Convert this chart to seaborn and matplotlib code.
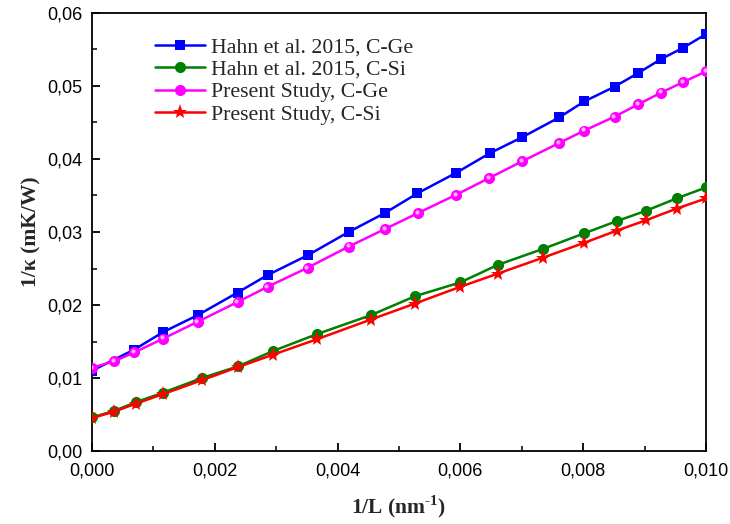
import matplotlib
matplotlib.use("Agg")
import matplotlib.pyplot as plt
import matplotlib.transforms as mtransforms
from matplotlib.ticker import MultipleLocator, FuncFormatter
import seaborn as sns

# Hahn et al. 2015, C-Ge
hahn_ge_x = [0.0, 0.00069, 0.00116, 0.00172, 0.00237, 0.00286, 0.00351, 0.00418, 0.00477, 0.00530,
             0.00593, 0.00648, 0.00701, 0.00761, 0.00802, 0.00851, 0.00890, 0.00927, 0.00962, 0.0100]
hahn_ge_y = [0.0110, 0.0139, 0.0163, 0.0186, 0.0217, 0.0241, 0.0268, 0.0300, 0.0326, 0.0353,
             0.0381, 0.0408, 0.0430, 0.0457, 0.0479, 0.0499, 0.0518, 0.0537, 0.0552, 0.0571]

# Present Study, C-Ge
pres_ge_x = [0.0, 0.00036, 0.00069, 0.00116, 0.00172, 0.00237, 0.00286, 0.00351, 0.00418, 0.00477, 0.00531,
             0.00593, 0.00647, 0.00701, 0.00761, 0.00802, 0.00851, 0.00890, 0.00927, 0.00962, 0.0100]
pres_ge_y = [0.0114, 0.0123, 0.0135, 0.0154, 0.0177, 0.0204, 0.0225, 0.0251, 0.0280, 0.0304, 0.0326,
             0.0351, 0.0374, 0.0397, 0.0422, 0.0439, 0.0458, 0.0475, 0.0491, 0.0505, 0.0520]

# C-Si series share x positions
si_x = [0.0, 0.00036, 0.00072, 0.00116, 0.00179, 0.00238, 0.00295, 0.00366, 0.00454, 0.00526,
        0.00600, 0.00661, 0.00735, 0.00801, 0.00855, 0.00902, 0.00952, 0.0100]
hahn_si_y = [0.0046, 0.0055, 0.0067, 0.0080, 0.0100, 0.0116, 0.0137, 0.0160, 0.0186, 0.0212,
             0.0231, 0.0255, 0.0277, 0.0298, 0.0315, 0.0329, 0.0346, 0.0361]
pres_si_y = [0.0045, 0.0054, 0.0065, 0.0078, 0.0097, 0.0115, 0.0132, 0.0153, 0.0180, 0.0202,
             0.0225, 0.0243, 0.0265, 0.0285, 0.0302, 0.0316, 0.0332, 0.0346]

labels = ["Hahn et al. 2015, C-Ge", "Hahn et al. 2015, C-Si",
          "Present Study, C-Ge", "Present Study, C-Si"]

sns.set_style("ticks")
plt.rcParams["font.family"] = ["Liberation Sans", "DejaVu Sans"]
plt.rcParams["xtick.direction"] = "in"
plt.rcParams["ytick.direction"] = "in"
plt.rcParams["mathtext.fontset"] = "custom"
plt.rcParams["mathtext.rm"] = "Liberation Serif"
plt.rcParams["mathtext.bf"] = "Liberation Serif:bold"

fig = plt.figure(figsize=(7.3, 5.24), dpi=100)
ax = fig.add_axes([92 / 730, 73 / 524, (706 - 92) / 730, (451 - 13) / 524])

lw = 1.8
sns.lineplot(x=hahn_ge_x, y=hahn_ge_y, ax=ax, color="#0000FF", marker="s", markersize=7,
             markeredgewidth=0, linewidth=lw, label=labels[0], zorder=3)
sns.lineplot(x=si_x, y=hahn_si_y, ax=ax, color="#008000", marker="o", markersize=8,
             markeredgewidth=0, linewidth=lw, label=labels[1], zorder=3)
sns.lineplot(x=pres_ge_x, y=pres_ge_y, ax=ax, color="#FF00FF", marker="o", markersize=8,
             markeredgewidth=0, linewidth=lw, label=labels[2], zorder=4)
# sphere highlight on the magenta markers
hl = mtransforms.offset_copy(ax.transData, fig=fig, x=-0.8, y=0.8, units="points")
ax.plot(pres_ge_x, pres_ge_y, linestyle="none", marker="o", markersize=3,
        markerfacecolor="#FFB0FF", markeredgewidth=0, transform=hl, zorder=5)
sns.lineplot(x=si_x, y=pres_si_y, ax=ax, color="#FF0000", marker="*", markersize=11,
             markeredgewidth=0, linewidth=lw, label=labels[3], zorder=4)

ax.set_xlim(0, 0.010)
ax.set_ylim(0, 0.06)
ax.xaxis.set_major_locator(MultipleLocator(0.002))
ax.xaxis.set_minor_locator(MultipleLocator(0.001))
ax.yaxis.set_major_locator(MultipleLocator(0.01))
ax.yaxis.set_minor_locator(MultipleLocator(0.005))
ax.xaxis.set_major_formatter(FuncFormatter(lambda v, p: f"{v:.3f}".replace(".", ",")))
ax.yaxis.set_major_formatter(FuncFormatter(lambda v, p: f"{v:.2f}".replace(".", ",")))
ax.tick_params(which="major", length=6, width=1.3, labelsize=13, colors="black")
ax.tick_params(axis="x", which="major", pad=8)
ax.tick_params(axis="y", which="major", pad=7)
ax.tick_params(which="minor", length=3.5, width=1.3)
for s in ax.spines.values():
    s.set_linewidth(1.3)
    s.set_color("black")

serif = ["Liberation Serif", "DejaVu Serif"]
ax.set_xlabel("1/L (nm$^{\\mathbf{\u2010}\\mathbf{1}}$)", fontsize=15.5, fontweight="bold",
              family=serif, labelpad=10)
ax.set_ylabel("1/κ (mK/W)", fontsize=15.5, fontweight="bold",
              family=serif, labelpad=4)

handles, lbls = ax.get_legend_handles_labels()
leg = ax.legend(handles, lbls, loc="upper left", bbox_to_anchor=(0.0886, 0.965), frameon=False,
                prop={"family": serif, "size": 15.7},
                handlelength=2.3, handletextpad=0.25, labelspacing=0.1, borderaxespad=0)

fig.savefig("out.png", dpi=100)
